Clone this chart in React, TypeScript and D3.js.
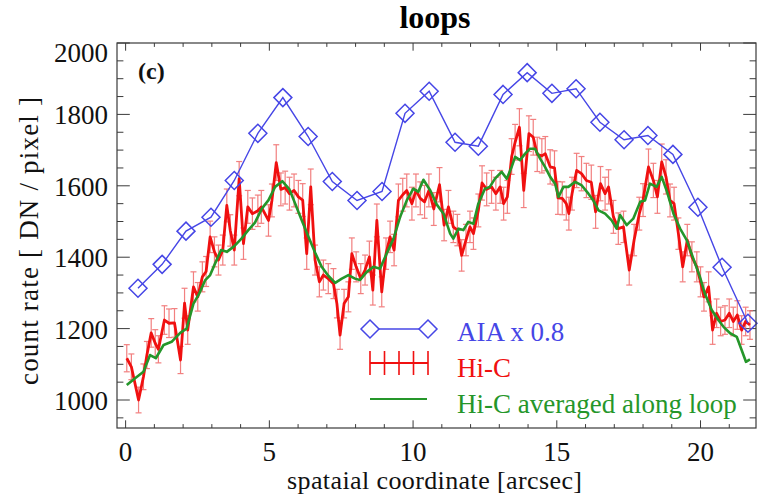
import React from "react";
import * as d3 from "d3";

// ---------- DATA ----------
const aiaX = [0.43, 1.27, 2.1, 2.97, 3.78, 4.6, 5.47, 6.35, 7.19, 8.05, 8.92, 9.72, 10.56, 11.46, 12.27, 13.13, 13.97, 14.83, 15.67, 16.5, 17.34, 18.17, 19.04, 19.91, 20.75, 21.65];
const aiaY = [1313, 1380, 1473, 1512, 1615, 1747, 1847, 1738, 1612, 1559, 1584, 1803, 1865, 1722, 1711, 1856, 1917, 1859, 1872, 1778, 1729, 1741, 1688, 1540, 1372, 1215];

const hicX = [0.04, 0.2, 0.45, 0.62, 0.74, 0.89, 1.03, 1.14, 1.35, 1.51, 1.7, 1.91, 2.05, 2.16, 2.36, 2.51, 2.67, 2.8, 2.94, 3.09, 3.23, 3.38, 3.52, 3.64, 3.78, 3.95, 4.1, 4.25, 4.41, 4.6, 4.72, 4.97, 5.09, 5.24, 5.4, 5.55, 5.7, 5.86, 6.01, 6.16, 6.3, 6.44, 6.59, 6.74, 6.88, 7.05, 7.23, 7.35, 7.46, 7.6, 7.75, 7.87, 8.02, 8.18, 8.33, 8.48, 8.6, 8.74, 8.91, 9.06, 9.2, 9.34, 9.49, 9.64, 9.78, 9.96, 10.1, 10.25, 10.4, 10.55, 10.72, 10.92, 11.08, 11.23, 11.4, 11.54, 11.69, 11.84, 11.98, 12.1, 12.27, 12.4, 12.56, 12.73, 12.88, 13.03, 13.15, 13.28, 13.43, 13.55, 13.7, 13.85, 14.03, 14.18, 14.32, 14.48, 14.6, 14.77, 14.92, 15.04, 15.19, 15.33, 15.42, 15.53, 15.69, 15.86, 16.03, 16.2, 16.35, 16.52, 16.68, 16.8, 16.97, 17.14, 17.32, 17.52, 17.69, 17.87, 18.0, 18.19, 18.36, 18.5, 18.65, 18.8, 18.94, 19.08, 19.23, 19.38, 19.54, 19.7, 19.87, 20.0, 20.12, 20.28, 20.42, 20.56, 20.7, 20.85, 21.0, 21.14, 21.28, 21.43, 21.57, 21.72];
const hicY = [1117, 1093, 1000, 1065, 1126, 1188, 1159, 1142, 1224, 1215, 1216, 1112, 1271, 1196, 1317, 1289, 1345, 1360, 1457, 1415, 1392, 1420, 1545, 1475, 1420, 1620, 1438, 1541, 1522, 1530, 1541, 1503, 1559, 1665, 1590, 1595, 1578, 1587, 1569, 1560, 1410, 1597, 1392, 1331, 1350, 1340, 1326, 1270, 1182, 1270, 1289, 1410, 1373, 1340, 1364, 1401, 1308, 1503, 1303, 1410, 1457, 1420, 1559, 1575, 1587, 1550, 1587, 1565, 1555, 1587, 1535, 1603, 1490, 1541, 1485, 1476, 1405, 1448, 1485, 1466, 1531, 1608, 1590, 1597, 1578, 1597, 1550, 1569, 1682, 1722, 1764, 1587, 1746, 1736, 1688, 1684, 1690, 1653, 1650, 1566, 1565, 1550, 1522, 1578, 1643, 1634, 1615, 1610, 1527, 1606, 1578, 1597, 1513, 1480, 1485, 1364, 1448, 1522, 1560, 1653, 1615, 1569, 1667, 1625, 1559, 1550, 1466, 1373, 1448, 1401, 1373, 1331, 1289, 1317, 1196, 1243, 1220, 1224, 1243, 1220, 1238, 1196, 1220, 1210];
const hicErr = [38, 36, 36, 36, 38, 40, 38, 38, 40, 40, 40, 38, 42, 40, 42, 40, 42, 42, 44, 42, 42, 42, 46, 44, 42, 48, 44, 46, 44, 44, 46, 44, 46, 50, 46, 46, 46, 46, 46, 46, 44, 50, 42, 42, 42, 42, 42, 40, 40, 40, 42, 44, 42, 42, 42, 44, 42, 46, 42, 44, 44, 44, 46, 46, 46, 46, 46, 46, 46, 46, 46, 48, 44, 46, 44, 44, 44, 44, 44, 44, 46, 48, 46, 46, 46, 46, 46, 46, 50, 50, 52, 48, 50, 50, 48, 48, 48, 48, 48, 46, 46, 46, 46, 46, 48, 48, 48, 48, 46, 48, 46, 48, 46, 44, 44, 42, 44, 46, 46, 50, 48, 46, 50, 48, 46, 46, 44, 42, 44, 42, 42, 42, 40, 42, 40, 40, 40, 40, 40, 40, 40, 40, 40, 40];

const avgX = [0.04, 0.33, 0.62, 0.85, 1.05, 1.32, 1.6, 1.9, 2.12, 2.36, 2.56, 2.77, 2.94, 3.11, 3.32, 3.52, 3.78, 4.03, 4.26, 4.5, 4.74, 4.97, 5.2, 5.45, 5.7, 5.9, 6.13, 6.36, 6.59, 6.82, 7.05, 7.29, 7.52, 7.75, 7.98, 8.15, 8.39, 8.62, 8.85, 9.08, 9.32, 9.55, 9.78, 10.01, 10.18, 10.36, 10.6, 10.82, 11.06, 11.29, 11.4, 11.58, 11.75, 11.92, 12.1, 12.27, 12.5, 12.67, 12.85, 13.08, 13.26, 13.43, 13.55, 13.72, 13.9, 14.07, 14.24, 14.42, 14.59, 14.77, 14.94, 15.06, 15.23, 15.4, 15.64, 15.87, 16.1, 16.27, 16.45, 16.68, 16.91, 17.08, 17.2, 17.43, 17.66, 17.9, 18.07, 18.24, 18.47, 18.65, 18.82, 19.06, 19.29, 19.52, 19.75, 19.98, 20.15, 20.39, 20.62, 20.8, 21.03, 21.26, 21.43, 21.58, 21.72];
const avgY = [1042, 1061, 1079, 1126, 1117, 1154, 1163, 1188, 1200, 1270, 1298, 1336, 1350, 1382, 1420, 1415, 1431, 1452, 1475, 1497, 1536, 1560, 1597, 1613, 1590, 1550, 1503, 1457, 1413, 1373, 1348, 1328, 1340, 1350, 1340, 1336, 1359, 1373, 1368, 1410, 1452, 1513, 1559, 1592, 1583, 1617, 1587, 1548, 1522, 1466, 1452, 1480, 1476, 1499, 1494, 1550, 1592, 1597, 1620, 1639, 1620, 1653, 1681, 1672, 1690, 1704, 1704, 1676, 1653, 1625, 1606, 1569, 1597, 1597, 1611, 1601, 1578, 1559, 1531, 1522, 1503, 1480, 1518, 1490, 1508, 1555, 1559, 1606, 1597, 1625, 1587, 1522, 1480, 1448, 1396, 1345, 1298, 1252, 1224, 1205, 1187, 1177, 1140, 1107, 1114];

const xMajorTicks = [0, 5, 10, 15, 20];
const yMajorTicks = [1000, 1200, 1400, 1600, 1800, 2000];
const legendLabels = ["AIA x 0.8", "Hi-C", "Hi-C averaged along loop"];
const titleText = "loops";
const panelLabel = "(c)";
const xTitle = "spataial coordinate  [arcsec]";
const yTitle = "count rate  [ DN / pixel ]";

// ---------- STYLE ----------
const W = 765, H = 496;
const L = 117, R = 756, T = 43, B = 428;
const BLUE = "#4646e6";
const RED = "#f01010";
const ERR = "#f06a6a";
const GREEN = "#25962a";
const AX = "#3a3a3a";
const FONT = "'Liberation Serif', 'Times New Roman', 'DejaVu Serif', serif";

const x = d3.scaleLinear().domain([-0.3, 21.93]).range([L, R]);
const y = d3.scaleLinear().domain([921.6, 2000]).range([B, T]);

const diamond = (cx: number, cy: number, r = 9) =>
  `M${cx},${cy - r}L${cx + r},${cy}L${cx},${cy + r}L${cx - r},${cy}Z`;

export default function App() {
  const line = d3.line<[number, number]>().x((d) => x(d[0])).y((d) => y(d[1]));
  const aia = aiaX.map((v, i) => [v, aiaY[i]] as [number, number]);
  const hic = hicX.map((v, i) => [v, hicY[i]] as [number, number]);
  const avg = avgX.map((v, i) => [v, avgY[i]] as [number, number]);

  const xMinor = d3.range(0, 22, 1);
  const yMinor = d3.range(950, 2001, 50);

  const xMajLen = 7.7, xMinLen = 3.9, yMajLen = 12.8, yMinLen = 6.4;

  return (
    <svg width={W} height={H} style={{ position: "absolute", left: 0, top: 0, background: "#fff" }} fontFamily={FONT}>
      <rect x={0} y={0} width={W} height={H} fill="#fff" />
      {/* title */}
      <text x={435} y={28} textAnchor="middle" fontWeight="bold" fontSize={32} fill="#000">{titleText}</text>

      {/* ticks */}
      <g stroke={AX} strokeWidth={1}>
        {xMinor.map((t) => {
          const len = xMajorTicks.includes(t) ? xMajLen : xMinLen;
          return (
            <g key={"xt" + t}>
              <line x1={x(t)} x2={x(t)} y1={B} y2={B - len} />
              <line x1={x(t)} x2={x(t)} y1={T} y2={T + len} />
            </g>
          );
        })}
        {yMinor.map((t) => {
          const len = yMajorTicks.includes(t) ? yMajLen : yMinLen;
          return (
            <g key={"yt" + t}>
              <line x1={L} x2={L + len} y1={y(t)} y2={y(t)} />
              <line x1={R} x2={R - len} y1={y(t)} y2={y(t)} />
            </g>
          );
        })}
      </g>

      {/* tick labels */}
      <g fontSize={27} fill="#111">
        {xMajorTicks.map((t) => (
          <text key={"xl" + t} x={x(t)} y={461} textAnchor="middle">{t}</text>
        ))}
        {yMajorTicks.map((t) => (
          <text key={"yl" + t} x={108} y={Math.max(y(t) + 10, T + 19)} textAnchor="end">{t}</text>
        ))}
      </g>

      {/* axis titles */}
      <text x={434.5} y={489} textAnchor="middle" fontSize={26} fill="#111" textLength={295} lengthAdjust="spacing">{xTitle}</text>
      <text transform={`translate(38,241) rotate(-90)`} textAnchor="middle" fontSize={27} fill="#111" textLength={288} lengthAdjust="spacing">{yTitle}</text>

      {/* panel label */}
      <text x={138} y={79} fontWeight="bold" fontSize={24} fill="#111">{panelLabel}</text>

      {/* error bars */}
      <g stroke={ERR} strokeWidth={1.2} opacity={0.85}>
        {hic.map((d, i) => {
          const cx = x(d[0]);
          const y1 = y(d[1] - hicErr[i]);
          const y2 = y(d[1] + hicErr[i]);
          return (
            <g key={"e" + i}>
              <line x1={cx} x2={cx} y1={y1} y2={y2} />
              <line x1={cx - 3} x2={cx + 3} y1={y1} y2={y1} />
              <line x1={cx - 3} x2={cx + 3} y1={y2} y2={y2} />
            </g>
          );
        })}
      </g>

      {/* Hi-C */}
      <path d={line(hic) || ""} fill="none" stroke={RED} strokeWidth={2.8} strokeLinejoin="round" />
      {/* averaged */}
      <path d={line(avg) || ""} fill="none" stroke={GREEN} strokeWidth={2.6} strokeLinejoin="round" />
      {/* AIA */}
      <path d={line(aia) || ""} fill="none" stroke={BLUE} strokeWidth={1.4} />
      {aia.map((d, i) => (
        <path key={"dm" + i} d={diamond(x(d[0]), y(d[1]))} fill="none" stroke={BLUE} strokeWidth={1.5} />
      ))}

      {/* frame */}
      <rect x={L} y={T} width={R - L} height={B - T} fill="none" stroke={AX} strokeWidth={1.2} />

      {/* legend */}
      <g>
        <line x1={370} x2={428} y1={329} y2={329} stroke={BLUE} strokeWidth={1.4} />
        <path d={diamond(370, 329)} fill="#fff" stroke={BLUE} strokeWidth={1.5} />
        <path d={diamond(428, 329)} fill="#fff" stroke={BLUE} strokeWidth={1.5} />
        <text x={457} y={341} fontSize={27} fill={BLUE}>{legendLabels[0]}</text>

        <line x1={370} x2={428} y1={363} y2={363} stroke={RED} strokeWidth={2} />
        {[370, 384.5, 399, 413.5, 428].map((lx) => (
          <g key={"lg" + lx} stroke={RED} strokeWidth={1.6}>
            <line x1={lx} x2={lx} y1={351} y2={375} />
          </g>
        ))}
        <text x={457} y={377} fontSize={27} fill={RED}>{legendLabels[1]}</text>

        <line x1={370} x2={427} y1={399} y2={399} stroke={GREEN} strokeWidth={2.2} />
        <text x={457} y={413} fontSize={27} fill={GREEN}>{legendLabels[2]}</text>
      </g>
    </svg>
  );
}
